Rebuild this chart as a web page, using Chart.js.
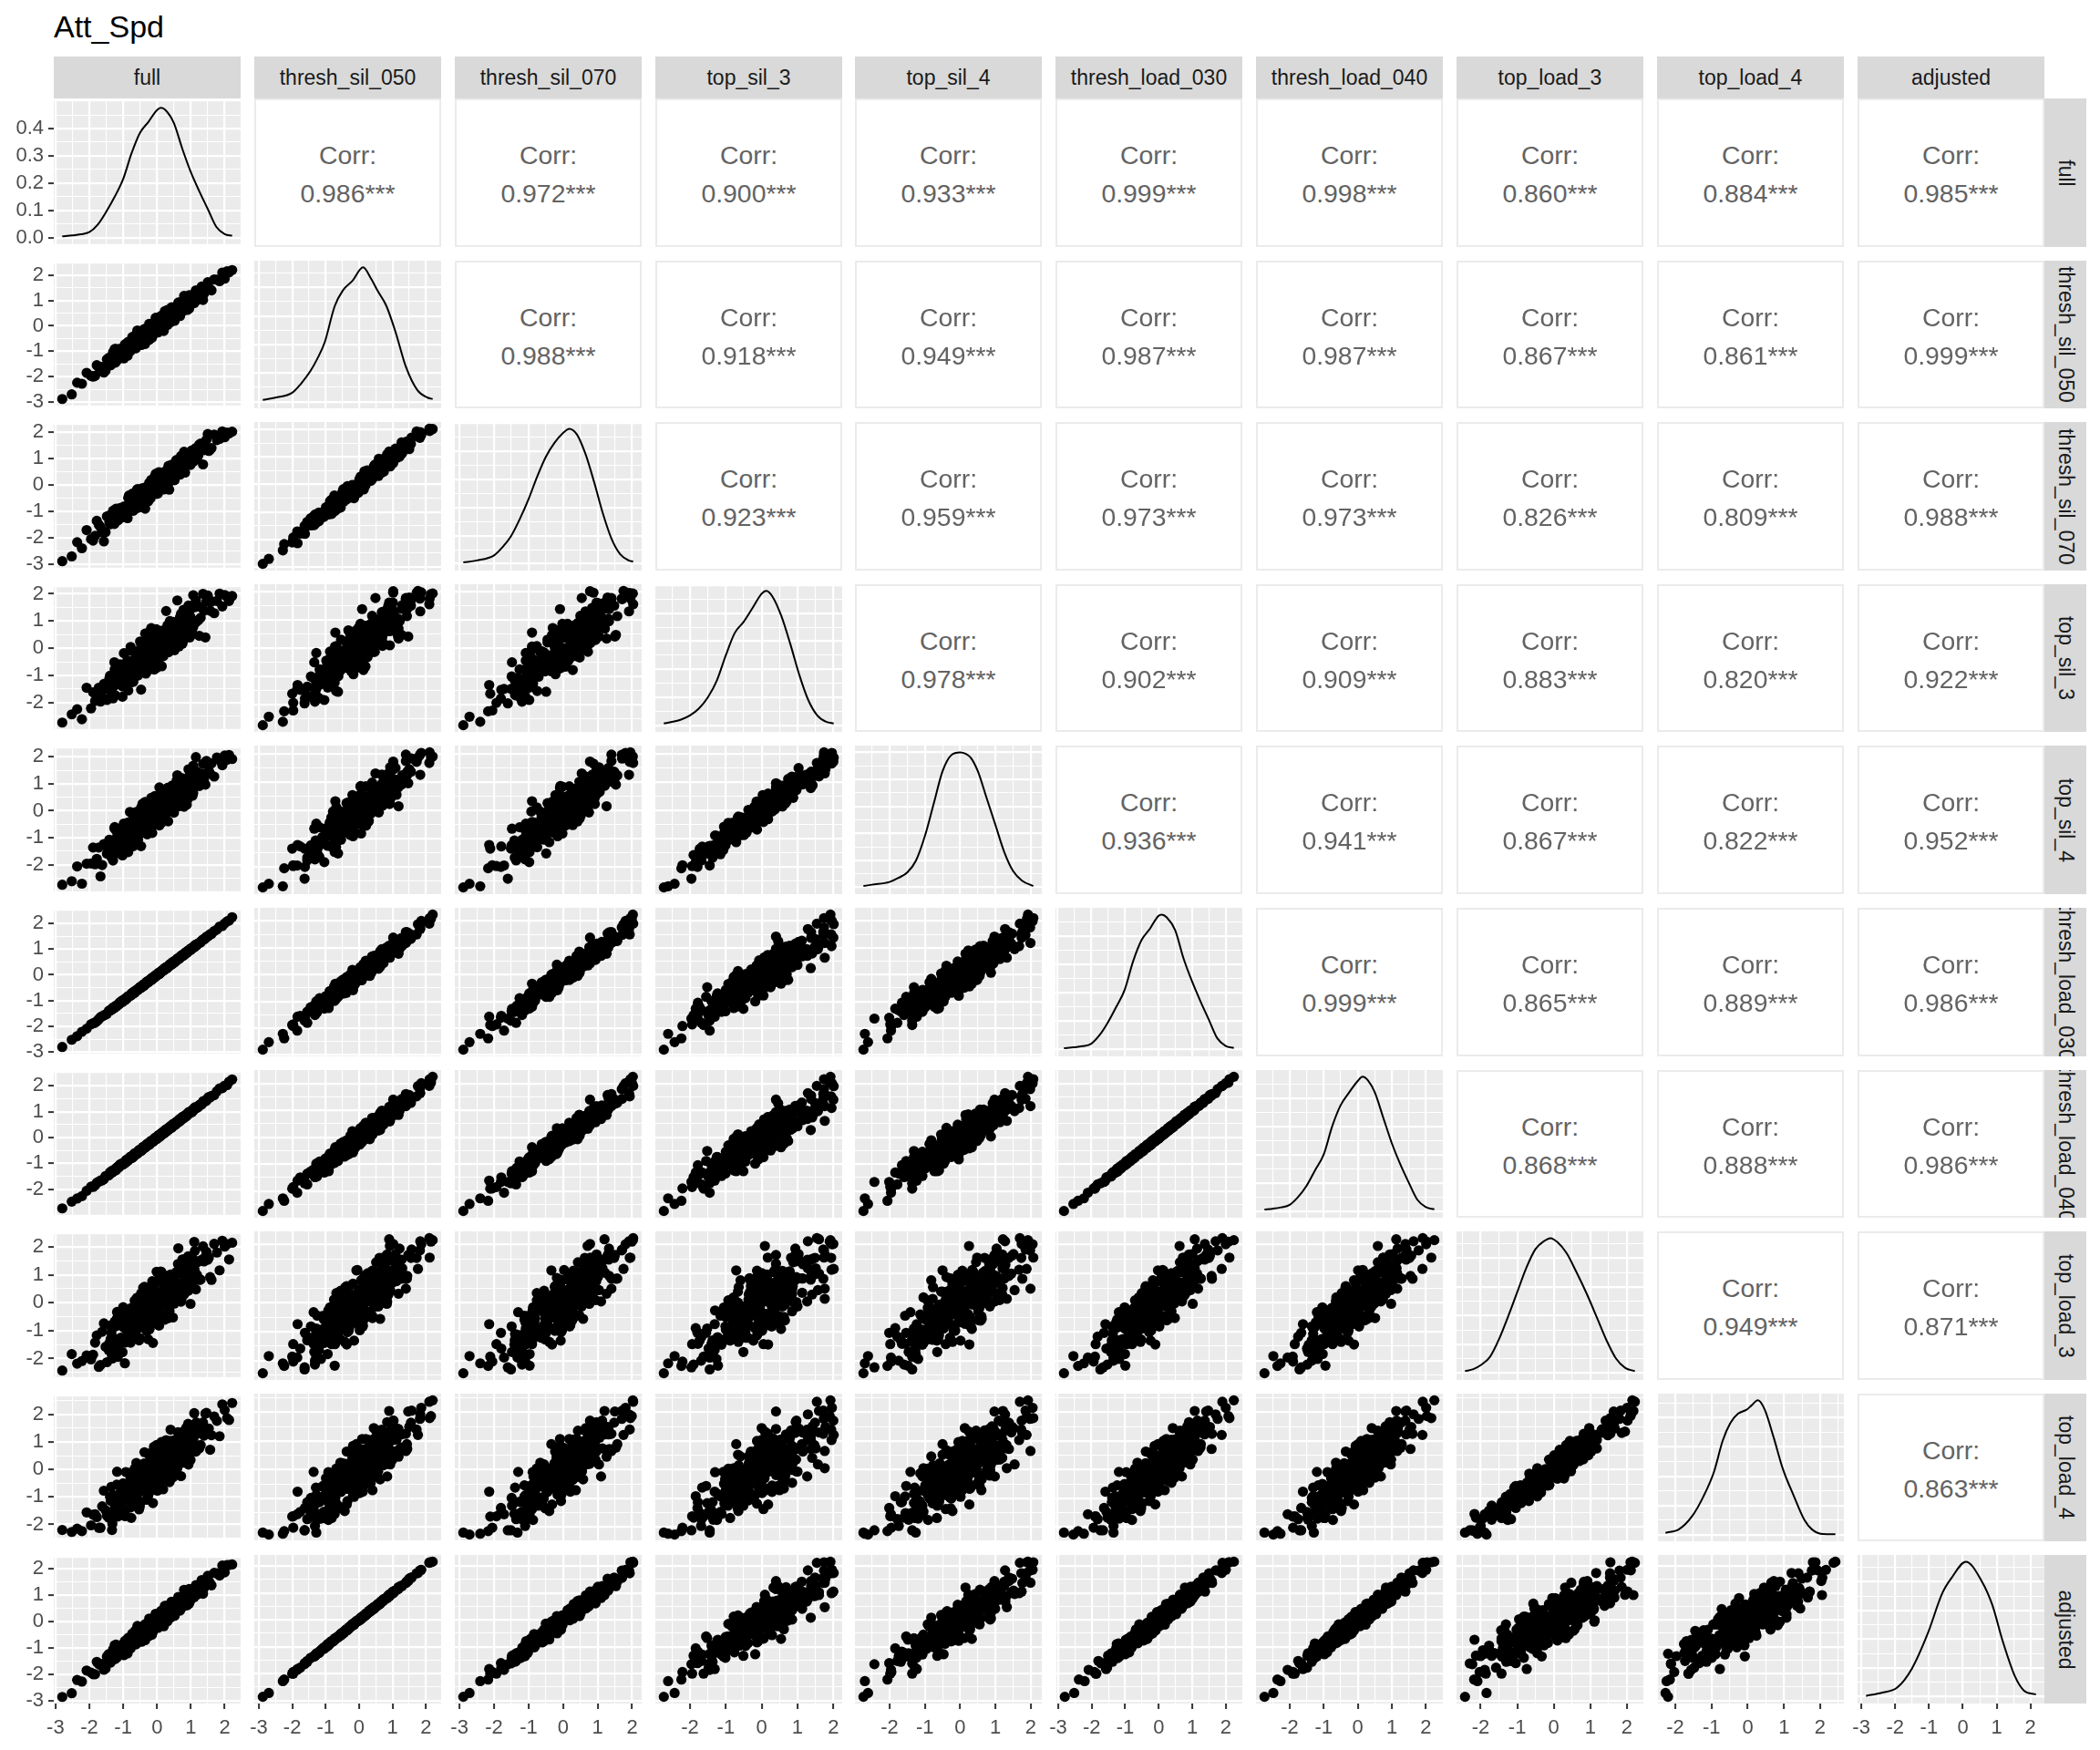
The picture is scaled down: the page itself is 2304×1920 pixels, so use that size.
<!DOCTYPE html>
<html>
<head>
<meta charset="utf-8">
<script src="https://cdn.jsdelivr.net/npm/chart.js@4.4.1/dist/chart.umd.min.js"></script>
<style>
html,body{margin:0;padding:0;background:#fff;}
#root{position:relative;width:2304px;height:1920px;overflow:hidden;font-family:"Liberation Sans",Arial,sans-serif;background:#fff;}
.title{position:absolute;left:59px;top:12px;font-size:34px;line-height:1;color:#000;white-space:nowrap;}
.strip{position:absolute;background:#D9D9D9;color:#1A1A1A;font-size:23px;overflow:hidden;}
.strip span{position:absolute;left:50%;top:50%;white-space:nowrap;line-height:1;}
.strip.top span{transform:translate(-50%,-50%);}
.strip.right span{transform:translate(-50%,-50%) rotate(90deg);}
.corr{position:absolute;background:#fff;border:2px solid #EBEBEB;box-sizing:border-box;color:#636363;font-size:28.4px;}
.corr span{position:absolute;left:50%;white-space:nowrap;line-height:1;transform:translate(-50%,-50%);}
canvas{position:absolute;}
</style>
</head>
<body>
<div id="root"><div class="title">Att_Spd</div></div>
<script>
// ---------------- data (values read/estimated from the picture) ----------------
const varNames = ['full','thresh_sil_050','thresh_sil_070','top_sil_3','top_sil_4','thresh_load_030','thresh_load_040','top_load_3','top_load_4','adjusted'];

const full = [-2.80,-2.52,-2.36,-2.22,-2.08,-1.95,-1.83,-1.72,-1.62,-1.52,
-1.43,-1.35,-1.28,-1.21,-1.15,-1.09,-1.02,-0.97,-0.93,-0.89,
-0.85,-0.81,-0.78,-0.74,-0.71,-0.68,-0.65,-0.62,-0.59,-0.56,
-0.54,-0.51,-0.48,-0.46,-0.43,-0.41,-0.38,-0.36,-0.34,-0.31,
-0.29,-0.27,-0.24,-0.22,-0.20,-0.18,-0.15,-0.13,-0.11,-0.09,
-0.07,-0.05,-0.02,0.00,0.02,0.04,0.06,0.08,0.10,0.12,
0.15,0.17,0.19,0.21,0.23,0.25,0.28,0.30,0.32,0.34,
0.37,0.39,0.41,0.44,0.46,0.48,0.51,0.53,0.56,0.58,
0.61,0.64,0.66,0.69,0.72,0.75,0.78,0.81,0.84,0.88,
0.91,0.95,0.99,1.03,1.07,1.12,1.18,1.25,1.32,1.39,
1.46,1.53,1.61,1.69,1.77,1.85,1.93,2.00,2.07,2.13,2.22,
-1.89,-1.78,-1.67,-1.57,-1.48,-1.39,-1.32,-1.25,-1.18,-1.12,
-1.06,-1.00,-0.95,-0.91,-0.87,-0.83,-0.80,-0.76,-0.73,-0.70,
-0.67,-0.64,-0.61,-0.58,-0.55,-0.53,-0.50,-0.47,-0.45,-0.42,
-0.40,-0.37,-0.35,-0.33,-0.30,-0.28,-0.26,-0.23,-0.21,-0.19,
-0.17,-0.14,-0.12,-0.10,-0.08,-0.06,-0.04,-0.01,0.01,0.03,
0.05,0.07,0.09,0.11,0.14,0.16,0.18,0.20,0.22,0.24,
0.27,0.29,0.31,0.33,0.36,0.38,0.40,0.43,0.45,0.47,
0.50,0.52,0.55,0.57,0.60,0.63,0.65,0.68,0.71,0.74,
0.77,0.80,0.83,0.86,0.90,0.93,0.97,1.01,1.05,1.10,
1.15,1.22,1.29,1.36,1.43,1.50,1.57,
-1.41,-1.37,-1.33,-1.30,-1.26,-1.23,-1.19,-1.16,-1.12,-1.09,
-1.05,-1.02,-0.98,-0.95,-0.92,-0.88,-0.85,-0.82,-0.78,-0.75,
-0.72,-0.69,-0.66,-0.62,-0.59,-0.56,-0.53,-0.50,-0.47,-0.44,
-0.41,-0.38,-0.35,-0.32,-0.29,-0.26,-0.23,-0.20,-0.17,-0.14,
-0.11,-0.08,-0.05,-0.02,0.01,0.04,0.07,0.10,0.13,0.16,
0.19,0.22,0.25,0.28,0.31,0.34,0.37,0.40,0.43,0.46,
0.49,0.52,0.55,0.58,0.62,0.65,0.68,0.71,0.75,0.78,
0.81,0.85,0.88,0.92,0.95,0.99,1.03,1.07,1.11,1.16];

const thresh_sil_050 = [-2.88,-2.70,-2.24,-2.28,-1.85,-1.97,-1.97,-1.63,-1.62,-1.76,
-1.26,-1.29,-1.36,-0.91,-1.20,-0.95,-1.19,-0.94,-1.04,-0.69,
-0.88,-0.73,-0.99,-0.63,-0.69,-0.80,-0.38,-0.71,-0.54,-0.71,
-0.45,-0.56,-0.33,-0.75,-0.37,-0.41,-0.46,-0.18,-0.54,-0.19,
-0.31,-0.24,-0.38,0.02,-0.26,-0.07,-0.47,-0.05,0.03,-0.18,
0.14,-0.08,0.00,-0.17,0.11,-0.07,0.11,0.25,-0.13,0.12,
0.10,0.29,0.07,0.27,0.58,0.07,0.31,0.24,0.47,0.20,
0.45,0.13,0.52,0.46,0.43,0.68,0.42,0.67,0.41,0.63,
0.53,0.90,0.64,0.78,0.52,0.75,0.90,0.70,1.02,0.82,
0.94,0.68,1.05,1.18,1.02,1.21,1.01,1.27,1.55,1.27,
1.57,1.50,1.40,1.83,1.82,1.76,2.10,1.86,2.15,2.11,2.20,
-2.00,-1.55,-1.63,-1.84,-1.32,-1.44,-1.32,-0.91,-1.36,-1.05,
-1.20,-0.87,-0.73,-0.95,-1.18,-0.74,-0.78,-0.92,-0.44,-0.77,
-0.53,-0.87,-0.56,-0.18,-0.68,-0.55,-0.32,-0.69,-0.34,-0.51,
-0.15,-0.37,-0.71,-0.17,-0.35,-0.21,-0.46,0.08,-0.32,-0.15,
-0.21,0.06,-0.37,-0.01,0.05,-0.20,0.32,-0.08,0.03,-0.26,
0.16,0.05,0.36,-0.05,0.19,0.07,0.40,-0.20,0.36,0.24,
0.09,0.36,0.63,0.28,0.14,0.54,0.44,0.30,0.68,0.40,
0.59,0.20,0.73,0.59,0.49,0.92,0.61,0.45,0.84,0.79,
0.61,1.18,0.74,0.97,0.63,0.93,1.17,0.87,1.12,0.90,
1.40,1.17,1.43,1.02,1.47,1.72,1.44,
-1.30,-1.55,-1.28,-1.04,-1.34,-1.45,-1.05,-1.14,-1.25,-0.90,
-1.10,-0.94,-1.28,-0.82,-0.92,-0.98,-0.63,-1.01,-0.72,-0.78,
-0.56,-0.83,-0.63,-0.88,-0.30,-0.62,-0.43,-0.52,-0.68,-0.30,
-0.36,-0.49,-0.11,-0.48,-0.27,-0.15,-0.55,-0.12,0.01,-0.22,
-0.14,0.13,-0.18,-0.02,0.11,-0.20,0.21,0.05,0.40,-0.02,
0.25,0.12,0.44,0.31,0.04,0.47,0.35,0.26,0.73,0.40,
0.57,0.31,0.55,0.74,0.51,0.70,0.39,0.93,0.72,0.88,
0.62,0.99,0.91,0.84,1.21,0.83,1.09,1.02,1.29,1.03];

const thresh_sil_070 = [-2.89,-2.71,-2.17,-2.40,-1.71,-2.05,-1.93,-1.51,-1.80,-1.79,
-1.17,-1.39,-1.16,-0.90,-1.34,-0.87,-1.23,-0.81,-0.99,-0.92,
-0.85,-0.78,-0.83,-0.72,-0.59,-0.80,-0.55,-0.63,-0.55,-0.49,
-0.52,-0.52,-0.46,-0.63,-0.45,-0.24,-0.49,-0.17,-0.45,-0.41,
-0.24,-0.36,-0.25,-0.03,-0.23,-0.23,-0.17,0.00,-0.07,-0.08,
0.10,-0.08,-0.20,-0.03,0.15,-0.16,0.19,0.11,-0.12,0.09,
0.28,0.21,0.19,0.34,0.31,0.16,0.26,0.45,0.35,0.23,
0.44,0.23,0.35,0.62,0.36,0.68,0.47,0.42,0.54,0.59,
0.61,0.77,0.68,0.70,0.75,0.65,0.91,0.79,0.84,0.89,
0.91,0.85,0.96,1.21,0.88,1.33,0.97,1.53,1.48,1.32,
1.71,1.29,1.40,1.91,1.70,1.75,2.03,1.81,1.99,1.95,2.02,
-2.11,-1.36,-1.60,-2.14,-1.19,-1.49,-1.10,-1.09,-1.30,-1.18,
-1.02,-0.87,-0.97,-0.85,-1.26,-0.40,-0.92,-0.87,-0.33,-0.98,
-0.56,-0.61,-0.66,-0.16,-0.52,-0.84,-0.24,-0.75,-0.13,-0.62,
-0.12,-0.23,-0.90,-0.22,-0.06,-0.15,-0.62,0.08,-0.19,-0.50,
-0.02,-0.02,-0.32,-0.15,0.29,-0.22,0.42,-0.34,0.05,-0.32,
0.48,-0.08,0.47,0.03,-0.03,0.25,0.37,-0.17,0.26,0.51,
-0.09,0.42,0.58,0.42,-0.18,0.54,0.66,0.22,0.78,0.21,
0.75,0.18,0.62,0.94,0.54,0.71,0.74,0.39,1.10,0.65,
0.63,1.26,0.47,0.94,0.82,1.04,1.04,0.93,0.96,1.20,
1.40,1.12,1.57,0.78,1.50,1.93,1.34,
-1.41,-1.40,-1.32,-0.98,-1.48,-1.23,-1.12,-1.11,-1.12,-1.07,
-1.02,-0.97,-1.08,-1.07,-0.88,-1.08,-0.49,-1.01,-0.90,-0.71,
-0.62,-0.56,-0.76,-0.89,-0.19,-0.86,-0.40,-0.35,-0.76,-0.24,
-0.51,-0.25,-0.15,-0.35,-0.48,-0.07,-0.55,-0.23,0.19,-0.25,
-0.21,0.28,-0.11,-0.30,0.21,-0.19,0.07,0.26,0.30,0.02,
0.38,-0.06,0.43,0.39,-0.02,0.72,0.13,0.29,0.60,0.54,
0.54,0.37,0.38,0.94,0.43,0.70,0.50,0.66,0.79,0.84,
0.79,0.88,0.92,0.97,1.01,0.76,1.31,1.06,1.14,1.13];

const top_sil_3 = [-2.73,-2.43,-2.24,-2.61,-1.45,-2.21,-1.94,-1.45,-1.79,-1.48,
-1.35,-1.66,-1.40,-0.71,-1.31,-0.59,-1.78,-0.62,-0.88,-1.00,
-0.54,-0.50,-0.77,-0.94,-0.82,-0.89,-0.38,-0.44,-0.78,-0.65,
-0.59,-0.67,-0.63,-0.12,0.19,-0.64,-0.56,-0.46,0.29,-0.76,
0.01,-0.82,-0.34,0.01,-0.19,0.08,-0.09,-0.06,-0.30,-0.02,
-0.13,0.53,-0.31,0.36,-0.46,0.37,0.28,-0.33,0.59,0.00,
-0.14,-0.13,0.40,0.40,0.58,0.36,0.15,0.09,0.81,-0.05,
0.87,0.29,0.10,0.40,0.70,0.32,0.66,0.66,0.58,0.62,
0.51,0.86,0.23,1.15,0.18,1.29,0.75,0.43,1.28,0.59,
0.61,1.26,1.15,0.68,1.95,0.94,1.60,0.46,1.49,1.38,
1.72,1.78,1.72,1.29,1.74,2.01,1.54,1.96,1.90,1.74,1.92,
-1.62,-1.68,-1.96,-1.31,-1.90,-1.01,-1.69,-0.78,-1.07,-1.14,
-1.01,-1.05,-1.22,-0.69,-0.76,-0.71,-0.09,-1.25,-0.51,-1.23,
-0.67,-0.13,-0.17,-0.76,-0.83,-0.72,0.25,-1.52,-0.05,-0.71,
-0.42,-0.30,0.54,-0.93,-0.71,0.37,-0.36,-0.66,0.62,-0.29,
-0.37,-0.59,0.18,-0.06,0.18,0.29,-0.02,-0.71,0.46,0.45,
-0.34,0.43,0.03,0.37,-0.66,0.58,0.50,0.11,0.03,-0.10,
1.37,0.00,0.58,-0.13,0.13,1.00,0.00,0.56,0.94,0.03,
0.16,0.78,0.54,0.28,1.76,0.09,0.85,0.33,1.27,0.84,
0.82,0.33,0.81,1.42,0.46,1.57,0.40,1.47,0.53,1.60,
1.76,1.03,1.12,2.00,0.40,1.94,1.38,
-1.12,-1.37,-1.45,-1.84,-0.51,-1.73,-0.77,-1.26,-1.15,-1.04,
-0.85,-1.40,-0.18,-1.24,-1.30,-0.45,-1.55,-0.87,0.05,-1.02,
-0.67,-0.56,-0.93,-0.38,-0.56,-1.00,-0.65,-0.26,0.06,-0.67,
-0.56,-0.36,0.11,-0.37,-0.49,-0.23,-0.16,-0.58,0.74,-0.47,
0.23,-0.78,0.02,0.70,-0.35,-0.20,-0.32,0.60,-0.13,0.65,
-0.29,0.65,-0.14,0.30,0.85,-0.14,0.85,0.01,0.90,0.14,
0.97,-0.07,0.70,0.74,0.88,0.07,1.13,0.72,0.17,1.41,
0.78,0.85,0.59,0.95,0.97,0.96,1.03,0.78,1.51,0.97];

const top_sil_4 = [-2.74,-2.61,-2.06,-2.70,-1.96,-1.95,-1.98,-1.36,-2.01,-1.28,
-1.46,-1.29,-1.55,-0.73,-1.27,-0.88,-1.65,-0.82,-0.66,-1.07,
-0.43,-0.87,-0.75,-1.07,-0.53,-0.89,-0.56,-0.29,-1.04,-0.56,
-0.63,-0.27,-0.72,-0.34,0.26,-0.77,-0.32,-0.48,-0.04,-0.58,
-0.14,-0.78,-0.03,-0.19,-0.26,0.21,-0.33,0.14,-0.41,0.00,
-0.22,0.46,-0.05,0.18,-0.37,0.04,0.30,-0.13,0.46,0.00,
0.21,-0.37,0.31,0.51,0.14,0.43,-0.05,0.33,0.77,0.10,
0.58,0.33,-0.01,0.71,0.55,0.30,0.84,0.26,0.71,0.55,
0.73,0.73,0.30,0.93,0.60,1.20,0.75,0.54,1.02,0.88,
0.43,1.28,1.11,0.88,1.67,1.03,1.45,0.92,1.38,1.18,
1.85,1.47,1.76,1.27,1.98,1.88,1.69,2.05,1.89,2.07,1.92,
-1.36,-1.78,-2.43,-1.23,-1.59,-1.24,-1.74,-0.60,-1.41,-1.04,
-1.14,-0.58,-1.48,-0.72,-0.60,-1.13,-0.04,-0.91,-0.69,-1.31,
-0.44,-0.68,-0.04,-0.92,-0.44,-0.72,-0.04,-1.31,-0.15,-0.42,
-0.78,-0.22,0.33,-0.44,-0.76,0.06,-0.18,-0.50,0.28,-0.34,
0.02,-0.82,0.26,-0.06,-0.31,0.55,-0.12,-0.50,0.28,0.14,
-0.29,0.87,-0.10,0.34,-0.43,0.16,0.60,-0.10,0.37,-0.18,
0.80,0.18,0.61,-0.39,0.44,0.84,0.13,0.20,0.94,0.55,
-0.07,0.86,0.44,0.57,1.32,0.25,0.80,0.38,0.98,1.20,
0.69,0.15,1.02,0.90,0.56,1.54,0.82,1.31,0.56,1.21,
1.99,0.95,1.25,1.74,0.97,1.73,1.38,
-1.07,-1.68,-1.26,-1.84,-0.65,-1.37,-0.99,-1.19,-1.56,-0.78,
-0.95,-1.26,-0.47,-1.29,-0.89,-0.64,-1.53,-0.65,-0.41,-0.92,
-0.79,-0.25,-0.93,-0.62,-0.39,-1.07,-0.22,-0.60,0.11,-0.81,
-0.27,-0.58,0.06,-0.25,-0.87,0.01,-0.26,-0.51,0.48,-0.28,
0.06,-0.52,-0.05,0.32,-0.23,0.14,-0.54,0.58,0.06,0.36,
-0.22,0.53,0.32,0.11,0.85,0.00,0.51,0.30,0.80,0.19,
0.73,0.15,0.65,1.12,0.45,0.17,0.99,0.74,0.48,1.19,
0.71,1.02,0.23,1.19,0.95,0.79,1.51,0.66,1.25,1.09];

const thresh_load_030 = [-2.80,-2.52,-2.38,-2.21,-2.09,-1.92,-1.86,-1.72,-1.61,-1.54,
-1.41,-1.35,-1.30,-1.20,-1.16,-1.06,-1.05,-0.97,-0.92,-0.91,
-0.83,-0.81,-0.80,-0.73,-0.72,-0.65,-0.68,-0.62,-0.58,-0.58,
-0.52,-0.51,-0.50,-0.45,-0.44,-0.38,-0.41,-0.36,-0.33,-0.33,
-0.27,-0.27,-0.26,-0.21,-0.21,-0.15,-0.18,-0.13,-0.10,-0.11,
-0.05,-0.05,-0.04,0.01,0.01,0.07,0.03,0.08,0.11,0.10,
0.17,0.17,0.17,0.22,0.22,0.28,0.25,0.30,0.33,0.32,
0.39,0.39,0.39,0.45,0.45,0.51,0.48,0.53,0.57,0.56,
0.63,0.64,0.64,0.70,0.71,0.78,0.75,0.81,0.85,0.86,
0.93,0.95,0.97,1.04,1.06,1.15,1.15,1.25,1.33,1.37,
1.48,1.53,1.59,1.70,1.76,1.88,1.90,2.00,2.08,2.11,2.24,
-1.88,-1.80,-1.64,-1.57,-1.51,-1.37,-1.33,-1.25,-1.17,-1.14,
-1.03,-1.00,-0.98,-0.89,-0.88,-0.83,-0.79,-0.78,-0.70,-0.70,
-0.70,-0.62,-0.62,-0.58,-0.54,-0.55,-0.47,-0.47,-0.48,-0.40,
-0.41,-0.37,-0.34,-0.35,-0.27,-0.28,-0.29,-0.21,-0.22,-0.19,
-0.16,-0.16,-0.09,-0.10,-0.11,-0.04,-0.05,-0.01,0.02,0.01,
0.08,0.07,0.06,0.13,0.13,0.16,0.19,0.18,0.25,0.24,
0.24,0.31,0.30,0.33,0.37,0.36,0.43,0.43,0.42,0.49,
0.49,0.52,0.56,0.55,0.63,0.63,0.62,0.70,0.70,0.74,
0.78,0.78,0.86,0.86,0.87,0.95,0.96,1.01,1.06,1.08,
1.18,1.22,1.26,1.38,1.42,1.50,1.58,
-1.39,-1.38,-1.33,-1.27,-1.28,-1.22,-1.22,-1.16,-1.10,-1.10,
-1.05,-0.99,-1.00,-0.94,-0.95,-0.88,-0.83,-0.83,-0.78,-0.72,
-0.74,-0.68,-0.69,-0.62,-0.57,-0.57,-0.53,-0.47,-0.49,-0.43,
-0.44,-0.38,-0.33,-0.33,-0.29,-0.23,-0.25,-0.19,-0.20,-0.14,
-0.09,-0.09,-0.05,0.01,-0.01,0.05,0.04,0.10,0.15,0.15,
0.19,0.25,0.23,0.29,0.28,0.34,0.39,0.39,0.43,0.49,
0.47,0.53,0.52,0.58,0.64,0.64,0.68,0.74,0.73,0.79,
0.78,0.85,0.90,0.91,0.95,1.02,1.01,1.08,1.08,1.16];

const thresh_load_040 = [-2.74,-2.48,-2.36,-2.27,-2.06,-1.90,-1.85,-1.71,-1.66,-1.49,
-1.46,-1.31,-1.28,-1.26,-1.13,-1.04,-1.04,-0.96,-0.97,-0.86,
-0.88,-0.77,-0.78,-0.79,-0.69,-0.63,-0.67,-0.61,-0.63,-0.53,
-0.57,-0.47,-0.48,-0.51,-0.41,-0.36,-0.40,-0.35,-0.38,-0.28,
-0.32,-0.23,-0.24,-0.27,-0.18,-0.13,-0.17,-0.12,-0.15,-0.06,
-0.10,-0.01,-0.02,-0.05,0.04,0.09,0.04,0.09,0.06,0.15,
0.12,0.21,0.19,0.16,0.25,0.30,0.26,0.31,0.28,0.37,
0.34,0.43,0.41,0.39,0.48,0.53,0.49,0.54,0.52,0.61,
0.58,0.68,0.66,0.64,0.74,0.80,0.76,0.82,0.80,0.91,
0.88,0.99,0.99,0.98,1.09,1.17,1.16,1.26,1.28,1.42,
1.43,1.57,1.61,1.64,1.79,1.90,1.91,2.01,2.03,2.16,2.25,
-1.91,-1.75,-1.66,-1.61,-1.48,-1.35,-1.35,-1.23,-1.20,-1.09,
-1.05,-1.04,-0.95,-0.87,-0.90,-0.81,-0.82,-0.73,-0.72,-0.74,
-0.67,-0.60,-0.64,-0.56,-0.57,-0.50,-0.49,-0.51,-0.45,-0.38,
-0.43,-0.35,-0.37,-0.30,-0.29,-0.32,-0.26,-0.19,-0.24,-0.17,
-0.19,-0.11,-0.11,-0.14,-0.08,-0.02,-0.07,0.01,-0.01,0.06,
0.06,0.03,0.09,0.15,0.11,0.18,0.16,0.23,0.23,0.20,
0.27,0.33,0.28,0.35,0.34,0.41,0.41,0.39,0.45,0.51,
0.47,0.54,0.53,0.60,0.61,0.59,0.65,0.72,0.68,0.76,
0.75,0.83,0.84,0.82,0.90,0.97,0.94,1.03,1.03,1.13,
1.16,1.18,1.29,1.40,1.40,1.52,1.55,
-1.44,-1.35,-1.29,-1.31,-1.26,-1.27,-1.16,-1.18,-1.15,-1.07,
-1.01,-1.03,-0.98,-0.99,-0.89,-0.90,-0.88,-0.80,-0.74,-0.76,
-0.72,-0.73,-0.63,-0.64,-0.62,-0.54,-0.49,-0.51,-0.47,-0.48,
-0.38,-0.40,-0.38,-0.30,-0.25,-0.27,-0.23,-0.24,-0.14,-0.16,
-0.14,-0.06,-0.01,-0.03,0.01,0.00,0.10,0.08,0.10,0.18,
0.23,0.21,0.25,0.24,0.34,0.32,0.34,0.42,0.47,0.45,
0.49,0.48,0.58,0.56,0.59,0.67,0.72,0.70,0.75,0.74,
0.84,0.83,0.85,0.94,0.99,0.98,1.03,1.03,1.14,1.14];

const top_load_3 = [-2.43,-1.84,-2.18,-2.09,-1.89,-2.03,-1.43,-2.30,-1.04,-1.58,
-1.70,-1.08,-1.42,-0.84,-1.63,-0.70,-1.42,-0.54,-1.31,-0.93,
-0.67,-1.06,-0.65,-1.03,-0.31,-0.87,-0.29,-1.21,0.18,-0.75,
-0.16,-1.27,-0.58,0.10,-0.77,0.53,-0.49,-0.55,-0.63,-0.07,
-0.97,0.13,0.30,-0.95,0.30,-0.38,0.40,-0.73,0.10,0.65,
-0.22,-0.02,-0.05,0.05,-0.16,0.27,-0.82,0.81,-0.01,0.12,
0.42,0.08,0.47,0.06,-0.13,0.15,0.96,0.13,0.86,-0.51,
0.57,0.68,0.18,0.69,0.70,0.46,-0.03,0.16,1.09,0.69,
0.70,0.55,0.65,1.32,0.12,1.18,0.52,0.33,1.48,0.62,
0.67,1.31,0.83,1.03,1.13,1.86,1.00,0.82,1.54,1.48,
1.83,1.62,0.82,2.11,1.80,1.16,2.22,2.01,2.10,1.55,2.15,
-1.86,-1.17,-2.23,-0.74,-2.13,-0.82,-2.00,-0.68,-0.33,-1.39,
-1.25,-0.16,-2.17,-0.39,-1.12,-0.41,-0.69,-1.26,-0.36,-1.19,
-0.22,-1.13,0.04,-0.52,-0.56,-0.49,-0.45,-0.89,-0.17,-0.24,
-0.35,0.57,-0.91,-0.08,-1.02,-0.23,0.28,0.38,-0.49,-0.46,
-0.42,0.77,-1.44,0.41,-0.39,-0.17,0.08,1.11,-0.67,-0.51,
0.84,-0.03,-0.43,1.12,0.00,-0.01,-0.47,0.62,0.27,0.47,
0.79,0.30,-0.56,0.88,0.85,-0.13,0.97,0.32,0.78,-0.53,
0.95,0.96,0.37,0.41,0.13,1.95,0.30,1.05,0.04,0.50,
1.54,0.31,0.92,1.51,0.44,0.43,1.34,0.97,0.74,2.18,
0.48,1.48,0.83,2.02,1.64,1.54,0.92,
-1.45,-1.30,-1.89,-0.88,-1.70,-1.30,-0.58,-1.94,-0.45,-1.28,
-0.46,-1.77,-0.89,-1.43,-0.27,-0.98,-1.04,-0.51,-1.43,-0.18,
-0.89,-0.78,0.08,-1.21,-0.12,-0.50,-1.35,-0.35,0.33,-0.88,
-0.32,-0.07,-0.64,0.10,-0.14,-1.31,0.41,-0.31,0.40,-0.34,
-0.01,-0.23,0.01,0.28,-0.77,0.25,0.38,-0.62,1.10,-0.07,
0.68,-0.61,0.30,0.32,0.46,0.38,-0.30,1.01,0.00,0.97,
0.02,0.75,1.03,0.09,1.39,0.37,0.34,0.70,1.55,0.28,
1.08,0.68,0.81,1.66,0.88,-0.04,1.67,1.04,1.18,1.42];

const top_load_4 = [-2.20,-2.27,-2.15,-2.24,-1.56,-2.03,-1.63,-2.12,-1.34,-1.48,
-1.75,-0.63,-1.52,-1.09,-1.55,-0.85,-1.14,-0.57,-1.69,-0.73,
-0.85,-1.01,-0.30,-1.26,-0.39,-0.72,-0.57,-0.98,0.05,-0.72,
-0.26,-1.35,-0.28,-0.10,-0.67,0.15,-0.46,-0.32,-0.78,-0.07,
-0.57,-0.15,0.20,-0.82,-0.20,-0.30,0.17,-0.45,0.05,0.83,
-0.55,0.03,-0.18,0.40,-0.34,0.24,-0.62,0.36,0.14,0.04,
0.67,-0.07,0.55,-0.19,0.35,0.05,0.96,0.26,0.56,-0.18,
0.37,0.71,0.13,0.92,0.30,0.56,-0.21,0.69,0.96,0.46,
0.85,0.20,0.70,1.29,0.40,1.03,0.70,0.25,1.20,1.00,
0.67,1.39,0.63,1.23,1.03,1.28,1.30,0.77,1.64,1.23,
2.06,1.49,1.25,1.93,1.77,1.21,2.37,2.16,1.87,1.80,2.42,
-1.64,-1.73,-2.12,-0.77,-1.68,-0.99,-1.97,-1.10,-0.08,-1.47,
-1.11,-0.50,-1.55,-0.61,-1.12,-0.13,-0.80,-1.76,-0.28,-0.85,
-0.47,-1.19,0.24,-0.88,-0.45,-0.63,0.05,-1.17,-0.20,-0.07,
-0.80,0.63,-0.55,-0.28,-1.10,0.02,-0.31,0.52,-0.66,-0.04,
-0.42,0.46,-1.22,0.30,-0.08,-0.56,0.16,0.89,-0.14,-0.57,
0.50,0.17,-0.26,0.76,-0.06,0.41,-0.72,0.70,0.27,-0.06,
1.07,0.19,-0.34,0.68,0.51,-0.07,1.45,0.18,0.75,-0.28,
0.50,1.07,0.15,0.77,0.05,1.33,0.50,1.08,-0.24,0.84,
1.37,0.45,0.53,1.51,1.00,0.18,1.42,0.86,1.05,2.05,
0.65,1.42,0.89,1.71,2.03,1.40,0.72,
-1.55,-1.14,-2.20,-0.93,-1.26,-1.51,-0.55,-1.71,-0.94,-1.18,
-0.59,-1.43,-0.89,-1.69,-0.09,-1.06,-0.57,-0.87,-1.38,-0.34,
-0.58,-1.01,0.03,-1.08,-0.54,-0.24,-1.45,-0.27,0.04,-0.67,
-0.50,0.22,-0.72,-0.32,-0.01,-0.95,0.18,-0.34,0.61,-0.65,
0.07,-0.36,0.50,0.07,-0.77,0.41,0.02,-0.31,1.00,-0.02,
0.42,-0.38,0.25,0.74,-0.01,0.48,-0.46,1.04,0.34,0.74,
-0.06,0.93,0.64,0.35,1.36,0.19,0.86,0.57,1.26,0.41,
1.13,0.34,1.02,1.66,0.72,0.35,1.44,1.12,0.74,1.71];

const adjusted = [-2.86,-2.72,-2.22,-2.28,-1.86,-1.94,-2.00,-1.62,-1.61,-1.78,
-1.24,-1.29,-1.37,-0.88,-1.23,-0.94,-1.18,-0.96,-1.02,-0.69,
-0.89,-0.70,-1.02,-0.62,-0.68,-0.82,-0.36,-0.71,-0.55,-0.68,
-0.48,-0.55,-0.32,-0.77,-0.35,-0.41,-0.47,-0.15,-0.57,-0.18,
-0.30,-0.26,-0.36,0.02,-0.27,-0.04,-0.50,-0.04,0.04,-0.20,
0.16,-0.08,-0.01,-0.14,0.08,-0.06,0.12,0.23,-0.11,0.12,
0.09,0.32,0.04,0.28,0.59,0.05,0.33,0.24,0.46,0.23,
0.42,0.14,0.53,0.44,0.45,0.68,0.41,0.70,0.38,0.64,
0.54,0.88,0.66,0.78,0.51,0.78,0.87,0.71,1.03,0.80,
0.96,0.68,1.04,1.21,0.99,1.22,1.02,1.25,1.57,1.27,
1.56,1.53,1.37,1.84,1.83,1.74,2.12,1.86,2.14,2.14,2.16,
-2.00,-1.53,-1.65,-1.83,-1.33,-1.41,-1.35,-0.90,-1.36,-1.03,
-1.22,-0.86,-0.74,-0.92,-1.21,-0.73,-0.78,-0.90,-0.46,-0.76,
-0.54,-0.84,-0.59,-0.17,-0.68,-0.53,-0.34,-0.68,-0.35,-0.48,
-0.18,-0.36,-0.71,-0.15,-0.37,-0.20,-0.47,0.11,-0.35,-0.14,
-0.21,0.08,-0.39,0.00,0.04,-0.17,0.29,-0.07,0.03,-0.24,
0.14,0.06,0.35,-0.02,0.16,0.08,0.40,-0.18,0.34,0.25,
0.08,0.39,0.60,0.29,0.14,0.56,0.42,0.31,0.67,0.43,
0.56,0.21,0.73,0.61,0.47,0.93,0.60,0.48,0.81,0.80,
0.61,1.20,0.72,0.98,0.62,0.96,1.14,0.88,1.12,0.92,
1.38,1.18,1.42,1.05,1.44,1.73,1.44,
-1.29,-1.56,-1.26,-1.06,-1.34,-1.42,-1.08,-1.13,-1.24,-0.91,
-1.08,-0.96,-1.28,-0.79,-0.95,-0.97,-0.62,-1.02,-0.70,-0.80,
-0.56,-0.80,-0.66,-0.87,-0.29,-0.63,-0.41,-0.54,-0.68,-0.27,
-0.39,-0.48,-0.10,-0.49,-0.25,-0.17,-0.55,-0.09,-0.02,-0.21,
-0.13,0.12,-0.16,-0.04,0.11,-0.17,0.18,0.06,0.41,-0.03,
0.27,0.10,0.44,0.34,0.01,0.48,0.36,0.25,0.75,0.38,
0.57,0.34,0.52,0.75,0.52,0.69,0.41,0.91,0.72,0.91,
0.59,1.00,0.92,0.83,1.23,0.81,1.09,1.05,1.26,1.04];

// density curves (x, density)
const densFullX = [-2.80,-2.5,-2.25,-2.0,-1.75,-1.5,-1.25,-1.0,-0.75,-0.5,-0.25,0.0,0.12,0.25,0.5,0.75,1.0,1.25,1.5,1.75,2.0,2.22];
const densFullY = [0.005,0.008,0.012,0.02,0.048,0.095,0.15,0.215,0.31,0.385,0.425,0.468,0.476,0.468,0.42,0.325,0.24,0.17,0.105,0.04,0.013,0.007];
const densSil050X = [-2.88,-2.5,-2.0,-1.75,-1.45,-1.25,-1.03,-0.73,-0.48,-0.2,0.12,0.35,0.57,0.82,1.1,1.4,1.75,2.05,2.20];
const densSil050Y = [0.006,0.014,0.031,0.061,0.108,0.15,0.207,0.334,0.39,0.423,0.47,0.432,0.385,0.334,0.24,0.122,0.039,0.014,0.009];
const densSil070X = [-2.89,-2.5,-2.0,-1.75,-1.5,-1.25,-1.0,-0.75,-0.5,-0.25,0.0,0.18,0.4,0.65,0.9,1.15,1.4,1.65,1.9,2.03];
const densSil070Y = [0.005,0.012,0.03,0.06,0.1,0.16,0.23,0.31,0.38,0.43,0.465,0.48,0.46,0.39,0.29,0.18,0.09,0.035,0.012,0.008];
const densTopSil3X = [-2.73,-2.5,-2.25,-2.0,-1.75,-1.5,-1.25,-1.0,-0.75,-0.5,-0.25,0.0,0.13,0.3,0.55,0.8,1.05,1.3,1.55,1.8,2.01];
const densTopSil3Y = [0.006,0.012,0.02,0.035,0.06,0.1,0.16,0.25,0.33,0.37,0.42,0.47,0.48,0.46,0.39,0.29,0.18,0.09,0.035,0.012,0.006];
const densTopSil4X = [-2.74,-2.5,-2.0,-1.75,-1.5,-1.25,-1.0,-0.75,-0.5,-0.25,0.0,0.15,0.3,0.5,0.75,1.0,1.25,1.5,1.75,2.07];
const densTopSil4Y = [0.005,0.01,0.02,0.035,0.055,0.1,0.19,0.31,0.43,0.49,0.5,0.495,0.48,0.43,0.33,0.23,0.13,0.06,0.025,0.005];
const densLoad030X = [-2.80,-2.5,-2.25,-2.0,-1.75,-1.5,-1.25,-1.0,-0.75,-0.5,-0.25,0.0,0.1,0.25,0.5,0.75,1.0,1.25,1.5,1.75,2.0,2.24];
const densLoad030Y = [0.005,0.008,0.012,0.02,0.05,0.095,0.15,0.21,0.31,0.385,0.425,0.47,0.475,0.465,0.42,0.32,0.24,0.17,0.105,0.04,0.013,0.006];
const densLoad040X = [-2.74,-2.5,-2.25,-2.0,-1.75,-1.5,-1.25,-1.0,-0.75,-0.5,-0.25,0.0,0.14,0.3,0.5,0.75,1.0,1.25,1.5,1.75,2.0,2.25];
const densLoad040Y = [0.005,0.008,0.013,0.022,0.05,0.09,0.145,0.2,0.3,0.375,0.42,0.46,0.475,0.462,0.42,0.33,0.24,0.165,0.1,0.04,0.014,0.006];
const densTopLoad3X = [-2.43,-2.2,-2.0,-1.75,-1.5,-1.25,-1.0,-0.75,-0.5,-0.25,-0.09,0.1,0.35,0.6,0.9,1.2,1.45,1.7,1.95,2.22];
const densTopLoad3Y = [0.007,0.014,0.028,0.056,0.118,0.197,0.282,0.367,0.432,0.461,0.47,0.456,0.418,0.357,0.277,0.188,0.113,0.052,0.019,0.007];
const densTopLoad4X = [-2.27,-1.9,-1.53,-1.23,-0.94,-0.69,-0.48,-0.27,-0.03,0.1,0.28,0.47,0.72,0.97,1.27,1.56,1.77,2.06,2.42];
const densTopLoad4Y = [0.006,0.018,0.064,0.129,0.212,0.322,0.382,0.414,0.428,0.442,0.46,0.428,0.331,0.225,0.133,0.051,0.018,0.002,0.001];
const densAdjX = [-2.86,-2.4,-1.95,-1.5,-1.05,-0.6,-0.33,0.09,0.55,0.87,1.18,1.54,1.81,2.16];
const densAdjY = [0.003,0.014,0.031,0.099,0.216,0.362,0.414,0.47,0.404,0.32,0.193,0.071,0.021,0.008];

// correlation labels (upper triangle, row by row)
const corrFull   = [0.986,0.972,0.900,0.933,0.999,0.998,0.860,0.884,0.985];
const corrSil050 = [0.988,0.918,0.949,0.987,0.987,0.867,0.861,0.999];
const corrSil070 = [0.923,0.959,0.973,0.973,0.826,0.809,0.988];
const corrTopSil3 = [0.978,0.902,0.909,0.883,0.820,0.922];
const corrTopSil4 = [0.936,0.941,0.867,0.822,0.952];
const corrLoad030 = [0.999,0.865,0.889,0.986];
const corrLoad040 = [0.868,0.888,0.986];
const corrTopLoad3 = [0.949,0.871];
const corrTopLoad4 = [0.863];

// tick values
const majorTicks = [-3,-2,-1,0,1,2];
const minorTicks = [-2.5,-1.5,-0.5,0.5,1.5,2.5];
const densMajorTicks = [0,0.1,0.2,0.3,0.4,0.5];
const densMinorTicks = [0.05,0.15,0.25,0.35,0.45];

// ---------------- assembly ----------------
const vars = [full,thresh_sil_050,thresh_sil_070,top_sil_3,top_sil_4,thresh_load_030,thresh_load_040,top_load_3,top_load_4,adjusted];
const densX = [densFullX,densSil050X,densSil070X,densTopSil3X,densTopSil4X,densLoad030X,densLoad040X,densTopLoad3X,densTopLoad4X,densAdjX];
const densY = [densFullY,densSil050Y,densSil070Y,densTopSil3Y,densTopSil4Y,densLoad030Y,densLoad040Y,densTopLoad3Y,densTopLoad4Y,densAdjY];
const corrRows = [corrFull,corrSil050,corrSil070,corrTopSil3,corrTopSil4,corrLoad030,corrLoad040,corrTopLoad3,corrTopLoad4];

Chart.defaults.font.family = '"Liberation Sans", Arial, sans-serif';
Chart.defaults.color = '#4D4D4D';

const root = document.getElementById('root');
const N = 10;
const PX0 = 59, PXS = 219.87, PW = 204.9, PY0 = 108, PYS = 177.6, PH = 162.6;
const colL = c => Math.round(PX0 + c * PXS);
const colR = c => Math.round(PX0 + c * PXS + PW);
const rowT = r => Math.round(PY0 + r * PYS);
const rowB = r => Math.round(PY0 + r * PYS + PH);

function varLimits(i) {
  const a = vars[i];
  const lo = Math.min(...a), hi = Math.max(...a);
  const p = 0.05 * (hi - lo);
  return [lo - p, hi + p];
}
function densLimits(i) {
  const hi = Math.max(...densY[i]);
  return [-0.05 * hi, 1.05 * hi];
}
function tickList(lim, major, minor) {
  return major.concat(minor).filter(v => v >= lim[0] - 1e-9 && v <= lim[1] + 1e-9).sort((a, b) => a - b);
}

const bgPlugin = {
  id: 'panelBg',
  beforeDraw(chart) {
    const a = chart.chartArea, ctx = chart.ctx;
    ctx.save();
    ctx.fillStyle = '#EBEBEB';
    ctx.fillRect(a.left, a.top, a.right - a.left, a.bottom - a.top);
    ctx.restore();
  }
};

function scaleCfg(axis, lim, ticks, majors, show, size, fmt) {
  const isMaj = v => majors.some(m => Math.abs(m - v) < 1e-9);
  return {
    type: 'linear',
    position: axis === 'x' ? 'bottom' : 'left',
    min: lim[0], max: lim[1],
    afterBuildTicks: s => { s.ticks = ticks.map(v => ({ value: v })); },
    afterFit: s => { if (axis === 'x') s.height = size; else s.width = size; },
    border: { display: false },
    grid: {
      color: '#FFFFFF',
      lineWidth: ctx => (ctx.tick && isMaj(ctx.tick.value)) ? 2.2 : 1.1,
      drawTicks: show,
      tickLength: 6,
      tickWidth: 2,
      tickColor: ctx => (ctx.tick && isMaj(ctx.tick.value)) ? '#333333' : 'rgba(0,0,0,0)'
    },
    ticks: {
      display: show, autoSkip: false, maxRotation: 0, minRotation: 0,
      padding: axis === 'x' ? 8 : 5,
      color: '#4D4D4D', font: { size: 22 },
      callback: v => isMaj(v) ? fmt(v) : ''
    }
  };
}

const fmtInt = v => String(Math.round(v));
const fmtDens = v => v.toFixed(1);

function addDiv(cls, l, t, w, h, html) {
  const d = document.createElement('div');
  d.className = cls;
  d.style.left = l + 'px'; d.style.top = t + 'px';
  d.style.width = w + 'px'; d.style.height = h + 'px';
  if (html) d.innerHTML = html;
  root.appendChild(d);
  return d;
}

// strips
for (let c = 0; c < N; c++) {
  addDiv('strip top', colL(c), 62, colR(c) - colL(c), 46, '<span>' + varNames[c] + '</span>');
}
for (let r = 0; r < N; r++) {
  addDiv('strip right', 2243, rowT(r), 46, rowB(r) - rowT(r), '<span>' + varNames[r] + '</span>');
}

// panels
for (let r = 0; r < N; r++) {
  for (let c = 0; c < N; c++) {
    const L = colL(c), R = colR(c), T = rowT(r), B = rowB(r);
    if (r < c) {
      const v = corrRows[r][c - r - 1];
      const d = addDiv('corr', L, T, R - L, B - T, '');
      d.innerHTML = '<span style="top:60px">Corr:</span><span style="top:102px">' + v.toFixed(3) + '***</span>';
      continue;
    }
    const isLeft = c === 0, isBottom = r === N - 1;
    const padL = isLeft ? L : 15, padR = 15, padT = 15, padB = isBottom ? (1920 - B) : 15;
    const cv = document.createElement('canvas');
    const cw = (R - L) + padL + padR, ch = (B - T) + padT + padB;
    cv.width = cw; cv.height = ch;
    cv.style.left = (L - padL) + 'px'; cv.style.top = (T - padT) + 'px';
    cv.style.width = cw + 'px'; cv.style.height = ch + 'px';
    root.appendChild(cv);

    const xLim = varLimits(c);
    const xTicks = tickList(xLim, majorTicks, minorTicks);
    let yLim, yTicks, yMaj, yFmt, dataset;
    if (r === c) {
      yLim = densLimits(c);
      yTicks = tickList(yLim, densMajorTicks, densMinorTicks);
      yMaj = densMajorTicks; yFmt = fmtDens;
      dataset = {
        data: densX[c].map((x, i) => ({ x: x, y: densY[c][i] })),
        showLine: true, pointRadius: 0, borderColor: '#000000', borderWidth: 2,
        cubicInterpolationMode: 'monotone', fill: false
      };
    } else {
      yLim = varLimits(r);
      yTicks = tickList(yLim, majorTicks, minorTicks);
      yMaj = majorTicks; yFmt = fmtInt;
      const xs = vars[c], ys = vars[r];
      dataset = {
        data: xs.map((x, i) => ({ x: x, y: ys[i] })),
        showLine: false, pointRadius: 5.6, pointHoverRadius: 5.6,
        pointBackgroundColor: '#000000', pointBorderWidth: 0, borderColor: '#000000'
      };
    }
    new Chart(cv, {
      type: 'scatter',
      data: { datasets: [dataset] },
      options: {
        responsive: false, animation: false, devicePixelRatio: 1, events: [],
        layout: { padding: { left: isLeft ? 0 : padL, right: padR, top: padT, bottom: isBottom ? 0 : padB } },
        plugins: { legend: { display: false }, tooltip: { enabled: false } },
        scales: {
          x: scaleCfg('x', xLim, xTicks, majorTicks, isBottom, isBottom ? padB : 0, fmtInt),
          y: scaleCfg('y', yLim, yTicks, yMaj, isLeft, isLeft ? padL : 0, yFmt)
        }
      },
      plugins: [bgPlugin]
    });
  }
}
</script>
</body>
</html>
